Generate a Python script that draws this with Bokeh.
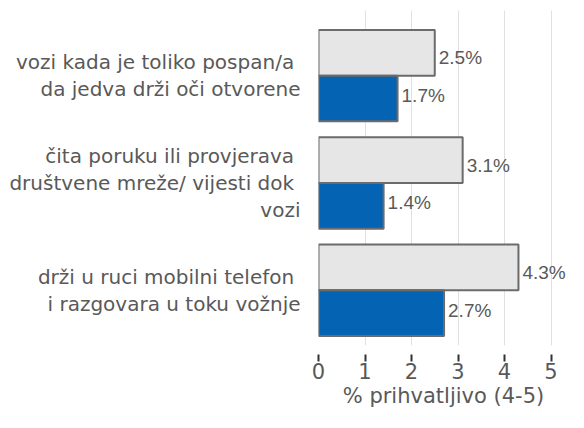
import numpy as np
from bokeh.plotting import figure
from bokeh.models import Range1d, FixedTicker, ColumnDataSource, LabelSet
from bokeh.transform import dodge
from bokeh.core.properties import value
from bokeh.embed import file_html
from bokeh.resources import INLINE

categories = [
    "vozi kada je toliko pospan/a \nda jedva drži oči otvorene",
    "čita poruku ili provjerava \ndruštvene mreže/ vijesti dok \nvozi",
    "drži u ruci mobilni telefon \ni razgovara u toku vožnje",
]
series_gray = [2.5, 3.1, 4.3]
series_blue = [1.7, 1.4, 2.7]
x_ticks = [0, 1, 2, 3, 4, 5]
x_title = "% prihvatljivo (4-5)"

pos = np.arange(len(categories))
src = ColumnDataSource(dict(
    pos=pos,
    gray=series_gray,
    blue=series_blue,
    gray_lbl=[f"{v:.1f}%" for v in series_gray],
    blue_lbl=[f"{v:.1f}%" for v in series_blue],
))

p = figure(width=568, height=412, output_backend="svg", toolbar_location=None,
           x_range=Range1d(0, 5.376), y_range=Range1d(2.515, -0.607),
           min_border_left=318, min_border_right=0, min_border_top=10, min_border_bottom=67)
p.outline_line_color = None
p.border_fill_color = "white"
p.background_fill_color = "white"

bw = 0.426
p.hbar(y=dodge("pos", -bw / 2, range=p.y_range), right="gray", left=0, height=bw, source=src,
       fill_color="#e6e6e6", line_color="#6b6b6b", line_width=2)
p.hbar(y=dodge("pos", bw / 2, range=p.y_range), right="blue", left=0, height=bw, source=src,
       fill_color="#0563b4", line_color="#6b6b6b", line_width=2)

lbl_style = dict(text_font=value("Liberation Sans"), text_font_size=value("19px"),
                 text_color=value("#595959"), text_baseline=value("middle"), x_offset=4)
p.add_layout(LabelSet(x="gray", y=dodge("pos", -bw / 2, range=p.y_range), text="gray_lbl",
                      source=src, y_offset=-5, **lbl_style))
p.add_layout(LabelSet(x="blue", y=dodge("pos", bw / 2, range=p.y_range), text="blue_lbl",
                      source=src, y_offset=3, **lbl_style))

# x axis
xa = p.xaxis[0]
xa.ticker = FixedTicker(ticks=x_ticks)
xa.axis_line_color = None
xa.major_tick_in = -9
xa.major_tick_out = 16
xa.major_tick_line_color = "#333333"
xa.major_tick_line_width = 2
xa.minor_tick_line_color = None
xa.major_label_text_font = "DejaVu Sans"
xa.major_label_text_font_size = "21px"
xa.major_label_text_color = "#595959"
xa.major_label_standoff = 1
xa.axis_label = x_title
xa.axis_label_text_font = "DejaVu Sans"
xa.axis_label_text_font_size = "21px"
xa.axis_label_text_font_style = "normal"
xa.axis_label_text_color = "#595959"
xa.axis_label_standoff = 2

# y axis
ya = p.yaxis[0]
ya.ticker = FixedTicker(ticks=list(pos))
ya.major_label_overrides = {int(i): c for i, c in zip(pos, categories)}
ya.axis_line_color = None
ya.major_tick_line_color = None
ya.minor_tick_line_color = None
ya.major_label_text_font = "DejaVu Sans"
ya.major_label_text_font_size = "20px"
ya.major_label_text_color = "#595959"
ya.major_label_text_line_height = 1.12
ya.major_label_standoff = 12

p.xgrid.grid_line_color = "#e0e0e0"
p.xgrid.grid_line_width = 1
p.ygrid.grid_line_color = None

open("out.html", "w").write(file_html(p, INLINE))
